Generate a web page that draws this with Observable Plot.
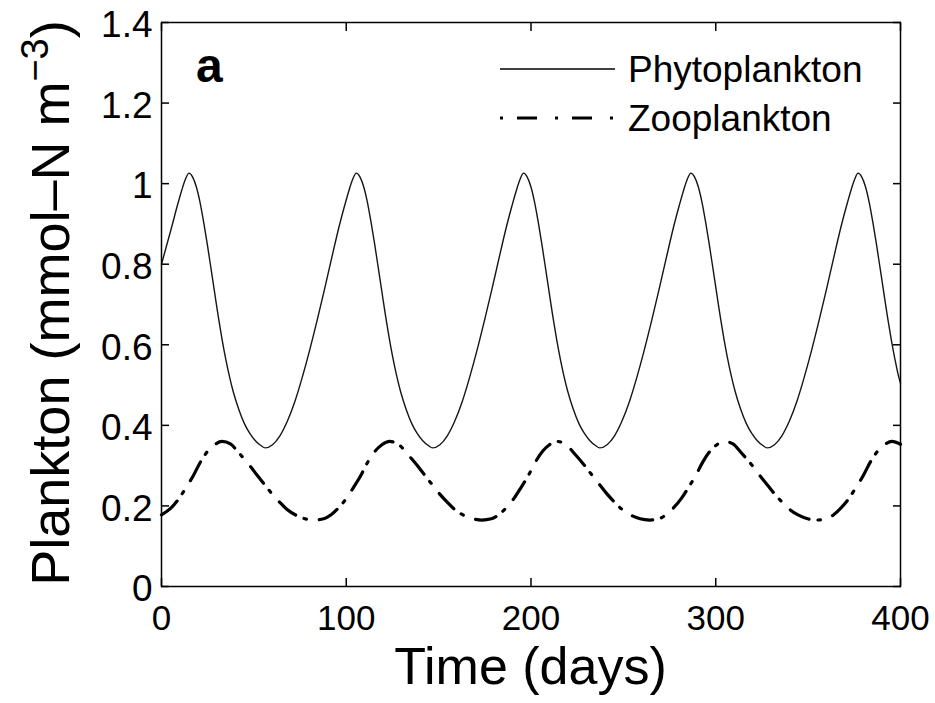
<!DOCTYPE html>
<html><head><meta charset="utf-8">
<script src="https://cdn.jsdelivr.net/npm/d3@7"></script>
<script src="https://cdn.jsdelivr.net/npm/@observablehq/plot@0.6"></script>
<style>
body{margin:0;background:#fff;}
#wrap{position:relative;width:935px;height:703px;}
</style></head><body><div id="wrap"></div>
<script>
// ---- data ----
const xTicks = [0, 100, 200, 300, 400];
const yTicks = [0, 0.2, 0.4, 0.6, 0.8, 1, 1.2, 1.4];
const yTickLabels = ["0", "0.2", "0.4", "0.6", "0.8", "1", "1.2", "1.4"];
const seriesNames = ["Phytoplankton", "Zooplankton"];
const xTitle = "Time (days)";
const panelLabel = "a";

const phytoT = [0, 5.55, 8.55, 11.05, 13.05,
  14.8, 16.8, 18.8, 20.8, 22.8, 24.8, 26.8, 28.8, 30.8, 32.8, 34.8, 36.8, 38.8, 41.8, 44.8, 47.8, 50.8, 53.8, 56.1,
  60.1, 64.1, 68.1, 72.1, 76.1, 80.1, 84.1, 88.1, 92.1, 96.1, 99.1, 101.6, 103.6,
  105.4, 107.4, 109.4, 111.4, 113.4, 115.4, 117.4, 119.4, 121.4, 123.4, 125.4, 127.4, 129.4, 132.4, 135.4, 138.4, 141.4, 144.4, 146.7,
  150.7, 154.7, 158.7, 162.7, 166.7, 170.7, 174.7, 178.7, 182.7, 186.7, 189.7, 192.2, 194.2,
  195.9, 197.9, 199.9, 201.9, 203.9, 205.9, 207.9, 209.9, 211.9, 213.9, 215.9, 217.9, 219.9, 222.9, 225.9, 228.9, 231.9, 234.9, 237.2,
  241.2, 245.2, 249.2, 253.2, 257.2, 261.2, 265.2, 269.2, 273.2, 277.2, 280.2, 282.7, 284.7,
  286.5, 288.5, 290.5, 292.5, 294.5, 296.5, 298.5, 300.5, 302.5, 304.5, 306.5, 308.5, 310.5, 313.5, 316.5, 319.5, 322.5, 325.5, 327.8,
  331.8, 335.8, 339.8, 343.8, 347.8, 351.8, 355.8, 359.8, 363.8, 367.8, 370.8, 373.3, 375.3,
  377.0, 379.0, 381.0, 383.0, 385.0, 387.0, 389.0, 391.0, 393.0, 395.0, 397.0, 399.0, 400];
const phytoV = [0.80, 0.893, 0.945, 0.985, 1.012,
  1.026, 1.017, 0.993, 0.955, 0.905, 0.849, 0.789, 0.728, 0.668, 0.613, 0.564, 0.521, 0.484, 0.44, 0.405, 0.38, 0.362, 0.35, 0.344,
  0.352, 0.374, 0.41, 0.458, 0.518, 0.585, 0.658, 0.735, 0.815, 0.893, 0.945, 0.985, 1.012,
  1.026, 1.017, 0.993, 0.955, 0.905, 0.849, 0.789, 0.728, 0.668, 0.613, 0.564, 0.521, 0.484, 0.44, 0.405, 0.38, 0.362, 0.35, 0.344,
  0.352, 0.374, 0.41, 0.458, 0.518, 0.585, 0.658, 0.735, 0.815, 0.893, 0.945, 0.985, 1.012,
  1.026, 1.017, 0.993, 0.955, 0.905, 0.849, 0.789, 0.728, 0.668, 0.613, 0.564, 0.521, 0.484, 0.44, 0.405, 0.38, 0.362, 0.35, 0.344,
  0.352, 0.374, 0.41, 0.458, 0.518, 0.585, 0.658, 0.735, 0.815, 0.893, 0.945, 0.985, 1.012,
  1.026, 1.017, 0.993, 0.955, 0.905, 0.849, 0.789, 0.728, 0.668, 0.613, 0.564, 0.521, 0.484, 0.44, 0.405, 0.38, 0.362, 0.35, 0.344,
  0.352, 0.374, 0.41, 0.458, 0.518, 0.585, 0.658, 0.735, 0.815, 0.893, 0.945, 0.985, 1.012,
  1.026, 1.017, 0.993, 0.955, 0.905, 0.849, 0.789, 0.728, 0.668, 0.613, 0.564, 0.521, 0.505];

const zooT = [0, 5.2, 9.7, 13.2, 17.2, 21.2, 25.2, 28.7,
  32.8, 37.3, 41.8, 48.3, 51.8, 56.3, 59.8, 63.8, 67.8, 72.8, 77.8, 82.8,
  87.8, 91.8, 95.8, 100.3, 103.8, 107.8, 111.8, 115.8, 119.3,
  123.5, 128.0, 132.5, 139.0, 142.5, 147.0, 150.5, 154.5, 158.5, 163.5, 168.5, 173.5,
  178.5, 182.5, 186.5, 191.0, 194.5, 198.5, 202.5, 206.5, 210.0,
  214.1, 218.6, 223.1, 229.6, 233.1, 237.6, 241.1, 245.1, 249.1, 254.1, 259.1, 264.1,
  269.1, 273.1, 277.1, 281.6, 285.1, 289.1, 293.1, 297.1, 300.6,
  304.8, 309.3, 313.8, 320.3, 323.8, 328.3, 331.8, 335.8, 339.8, 344.8, 349.8, 354.8,
  359.8, 363.8, 367.8, 372.3, 375.8, 379.8, 383.8, 387.8, 391.3,
  395.4, 400];
const zooV = [0.178, 0.195, 0.22, 0.245, 0.275, 0.31, 0.337, 0.352,
  0.36, 0.354, 0.332, 0.297, 0.276, 0.25, 0.23, 0.21, 0.192, 0.177, 0.168, 0.165,
  0.168, 0.178, 0.195, 0.22, 0.245, 0.275, 0.31, 0.337, 0.352,
  0.36, 0.354, 0.332, 0.297, 0.276, 0.25, 0.23, 0.21, 0.192, 0.177, 0.168, 0.165,
  0.168, 0.178, 0.195, 0.22, 0.245, 0.275, 0.31, 0.337, 0.352,
  0.36, 0.354, 0.332, 0.297, 0.276, 0.25, 0.23, 0.21, 0.192, 0.177, 0.168, 0.165,
  0.168, 0.178, 0.195, 0.22, 0.245, 0.275, 0.31, 0.337, 0.352,
  0.36, 0.354, 0.332, 0.297, 0.276, 0.25, 0.23, 0.21, 0.192, 0.177, 0.168, 0.165,
  0.168, 0.178, 0.195, 0.22, 0.245, 0.275, 0.31, 0.337, 0.352,
  0.36, 0.353];

// ---- chart ----
const FONT = '"Liberation Sans", Arial, Helvetica, sans-serif';
const phyto = phytoT.map((t, i) => ({t, v: phytoV[i]}));
const zoo = zooT.map((t, i) => ({t, v: zooV[i]}));
const ZOO_DASH = "21,9,2.5,13";

const chart = Plot.plot({
  width: 935, height: 703,
  marginLeft: 161, marginRight: 35, marginTop: 22, marginBottom: 117,
  style: {fontFamily: FONT, background: "white", color: "black", overflow: "visible"},
  x: {domain: [0, 400], ticks: xTicks},
  y: {domain: [0, 1.4], ticks: yTicks},
  marks: [
    Plot.line(phyto, {x: "t", y: "v", curve: "monotone-x", stroke: "#151515", strokeWidth: 1.4}),
    Plot.line(zoo, {x: "t", y: "v", curve: "monotone-x", stroke: "#000", strokeWidth: 3.2, strokeDasharray: ZOO_DASH}),
    Plot.frame({stroke: "black", strokeWidth: 1.5}),
    Plot.axisX({anchor: "bottom", ticks: xTicks, tickSize: -8, strokeWidth: 1.5, tickFormat: () => "", label: null}),
    Plot.axisX({anchor: "top", ticks: xTicks, tickSize: -8, strokeWidth: 1.5, tickFormat: () => "", label: null}),
    Plot.axisY({anchor: "left", ticks: yTicks, tickSize: -8, strokeWidth: 1.5, tickFormat: () => "", label: null}),
    Plot.axisY({anchor: "right", ticks: yTicks, tickSize: -8, strokeWidth: 1.5, tickFormat: () => "", label: null}),
    Plot.axisX({anchor: "bottom", ticks: xTicks, tickSize: 0, tickPadding: 19, fontSize: 35, label: null}),
    Plot.axisY({anchor: "left", ticks: yTicks, tickSize: 0, tickPadding: 9, fontSize: 37, dy: 3,
      tickFormat: d => yTickLabels[yTicks.indexOf(d)], label: null})
  ]
});
document.getElementById("wrap").appendChild(chart);

// ---- titles, panel label and legend ----
const svg = d3.select(chart);
const sx = chart.scale("x"), sy = chart.scale("y");
const frameL = sx.range[0], frameR = sx.range[1];
const frameT = sy.range[1], frameB = sy.range[0];

svg.append("text")
  .attr("x", (frameL + frameR) / 2).attr("y", 684)
  .attr("text-anchor", "middle").attr("font-family", FONT).attr("font-size", 52)
  .attr("fill", "black").text(xTitle);

const yl = svg.append("text")
  .attr("transform", `translate(69,${(frameT + frameB) / 2 - 1}) rotate(-90)`)
  .attr("text-anchor", "middle").attr("font-family", FONT).attr("font-size", 54).attr("fill", "black");
yl.append("tspan").text("Plankton (mmol\u2013N m");
yl.append("tspan").attr("font-size", 38).attr("dy", -21).text("\u22123");
yl.append("tspan").attr("dy", 21).text(")");

svg.append("text")
  .attr("x", frameL + 35).attr("y", 82).attr("text-anchor", "start")
  .attr("font-family", FONT).attr("font-size", 48).attr("font-weight", "bold")
  .attr("fill", "black").text(panelLabel);

const leg = svg.append("g");
const legRows = [
  {name: seriesNames[0], y: 69, w: 1.4, dash: null},
  {name: seriesNames[1], y: 118, w: 3.2, dash: "3,14,20,18"}
];
legRows.forEach((r) => {
  leg.append("line").attr("x1", 500).attr("x2", 615).attr("y1", r.y).attr("y2", r.y)
    .attr("stroke", "black").attr("stroke-width", r.w).attr("stroke-dasharray", r.dash);
  leg.append("text").attr("x", 628).attr("y", r.y + 13).attr("text-anchor", "start")
    .attr("font-family", FONT).attr("font-size", 37).attr("fill", "black").text(r.name);
});
</script>
</body></html>
